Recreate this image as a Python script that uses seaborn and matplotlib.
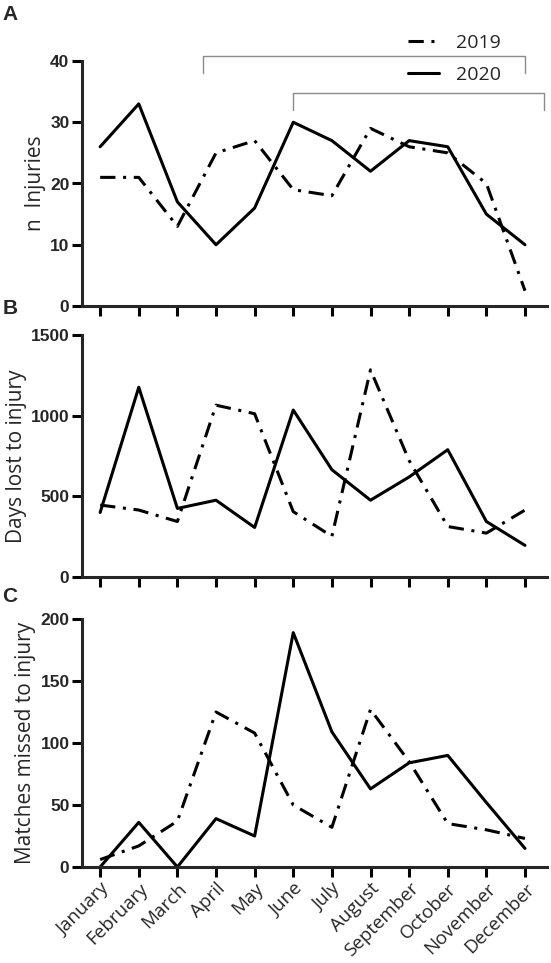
import numpy as np
import pandas as pd
import seaborn as sns
import matplotlib.pyplot as plt
from matplotlib.lines import Line2D

months = ['January', 'February', 'March', 'April', 'May', 'June', 'July',
          'August', 'September', 'October', 'November', 'December']

# A - number of injuries
inj_2019 = [21, 21, 13, 25, 27, 19, 18, 29, 26, 25, 20, 2.5]
inj_2020 = [26, 33, 17, 10, 16, 30, 27, 22, 27, 26, 15, 10]

# B - days lost to injury
days_2019 = [446, 415, 344, 1065, 1012, 405, 252, 1284, 722, 313, 272, 415]
days_2020 = [400, 1176, 425, 476, 307, 1035, 665, 476, 620, 789, 344, 196]

# C - matches missed to injury
match_2019 = [6, 17, 37, 125, 108, 50, 32, 127, 85, 35, 30, 23]
match_2020 = [0, 36, 0, 39, 25, 189, 109, 63, 84, 90, 52, 15]

panels = [
    ('A', 'n  Injuries', inj_2019, inj_2020, [0, 10, 20, 30, 40]),
    ('B', 'Days lost to injury', days_2019, days_2020, [0, 500, 1000, 1500]),
    ('C', 'Matches missed to injury', match_2019, match_2020, [0, 50, 100, 150, 200]),
]

sns.set_style('ticks')
plt.rcParams['font.family'] = ['Open Sans', 'DejaVu Sans']

fig = plt.figure(figsize=(5.51, 9.63), dpi=100)
left, width = 82 / 551, (547 - 82) / 551
boxes = [(61, 306), (335, 577), (619, 867)]
letter_y = {'A': 15, 'B': 308, 'C': 597}

dash = (5, 2.5, 1, 2.5)
lw = 2.2

for (letter, ylabel, y19, y20, yticks), (top, bot) in zip(panels, boxes):
    ax = fig.add_axes([left, 1 - bot / 963, width, (bot - top) / 963])
    df = pd.DataFrame({
        'month': list(range(12)) * 2,
        'value': list(y19) + list(y20),
        'Year': ['2019'] * 12 + ['2020'] * 12,
    })
    sns.lineplot(data=df, x='month', y='value', style='Year',
                 dashes={'2019': dash, '2020': ''}, color='black',
                 linewidth=lw, legend=False, ax=ax, clip_on=False)
    ax.set_xlim(-0.47, 11.57)
    ax.set_ylim(yticks[0], yticks[-1])
    ax.set_yticks(yticks)
    ax.set_xticks(range(12))
    sns.despine(ax=ax)
    ax.spines['left'].set_linewidth(lw)
    ax.spines['bottom'].set_linewidth(lw)
    ax.tick_params(axis='both', width=lw, length=7, color='black', pad=2)
    ax.set_xlabel('')
    ax.set_ylabel(ylabel, fontsize=15, labelpad=3)
    for t in ax.get_yticklabels():
        t.set_family('Liberation Sans')
        t.set_fontweight('bold')
        t.set_fontsize(12.5)
    if letter == 'C':
        ax.set_xticklabels(months, rotation=45, ha='right',
                           rotation_mode='anchor', fontsize=13.5)
    else:
        ax.set_xticklabels([])
    fig.text(10 / 551, 1 - letter_y[letter] / 963, letter, fontsize=15,
             fontweight='bold', family='Liberation Sans',
             ha='center', va='center')
    if letter == 'A':
        # significance brackets
        for x0, x1, yb, yd in [(2.67, 11, 40.8, 38.0), (5, 11.5, 34.7, 32.0)]:
            ax.plot([x0, x0, x1, x1], [yd, yb, yb, yd], color='#8a8a8a',
                    linewidth=1, clip_on=False)

handles = [Line2D([], [], color='black', linewidth=lw, dashes=dash),
           Line2D([], [], color='black', linewidth=lw)]
fig.legend(handles, ['2019', '2020'], loc='upper left',
           bbox_to_anchor=(390 / 551, 1 - 16 / 963), frameon=False,
           fontsize=14, handlelength=1.6, labelspacing=0.75, handletextpad=0.9)

fig.savefig('out.png', dpi=100)
